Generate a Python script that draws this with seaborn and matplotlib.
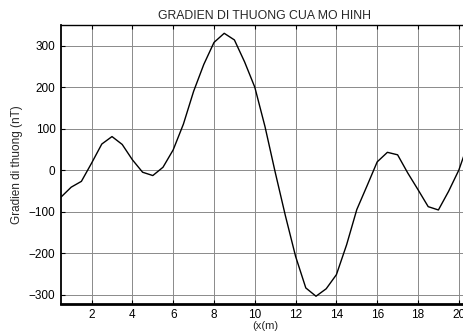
import matplotlib
matplotlib.use("Agg")
import matplotlib.pyplot as plt
import seaborn as sns
import pandas as pd

x_m = [0.5, 1.0, 1.5, 2.0, 2.5, 3.0, 3.5, 4.0, 4.5, 5.0, 5.5, 6.0, 6.5, 7.0, 7.5,
       8.0, 8.5, 9.0, 9.5, 10.0, 10.5, 11.0, 11.5, 12.0, 12.5, 13.0, 13.5, 14.0,
       14.5, 15.0, 15.5, 16.0, 16.5, 17.0, 17.5, 18.0, 18.5, 19.0, 19.5, 20.0, 20.5]
gradien = [-65, -41, -27, 17, 63, 81, 62, 25, -5, -13, 7, 49, 111, 190, 255,
           308, 330, 314, 261, 200, 105, -5, -110, -208, -284, -304, -286, -252,
           -180, -95, -38, 20, 43, 37, -7, -47, -88, -96, -51, 0, 70]
x_ticks = [2, 4, 6, 8, 10, 12, 14, 16, 18, 20]
y_ticks = [-300, -200, -100, 0, 100, 200, 300]

sns.set_style("white")
plt.rcParams['font.family'] = ['Liberation Sans', 'DejaVu Sans']

df = pd.DataFrame({"x": x_m, "g": gradien})

fig = plt.figure(figsize=(4.64, 3.34), dpi=100)
ax = fig.add_axes([61/464, 1 - 303.7/334, 408/464, (303.7 - 25)/334])
sns.lineplot(data=df, x="x", y="g", ax=ax, color="black", linewidth=1.0)

ax.set_xlim(0.5, 20.5)
ax.set_ylim(-322, 350)
ax.set_xticks(x_ticks)
ax.set_yticks(y_ticks)
ax.grid(True, color="#8a8a8a", linewidth=0.7)
ax.tick_params(direction="in", length=3, width=0.8, top=True, bottom=True,
               left=True, right=True, labelsize=8.5, pad=4, colors="black")
for side in ["top", "right"]:
    ax.spines[side].set_linewidth(1.0)
ax.spines["left"].set_linewidth(1.3)
ax.spines["bottom"].set_linewidth(2.0)
for s in ax.spines.values():
    s.set_color("black")

ax.set_title("GRADIEN DI THUONG CUA MO HINH", fontsize=8.8, pad=4)
ax.set_xlabel("(x(m)", fontsize=8, labelpad=0)
ax.set_ylabel("Gradien di thuong (nT)", fontsize=8.5, labelpad=4)

fig.savefig("out.png", dpi=100)
